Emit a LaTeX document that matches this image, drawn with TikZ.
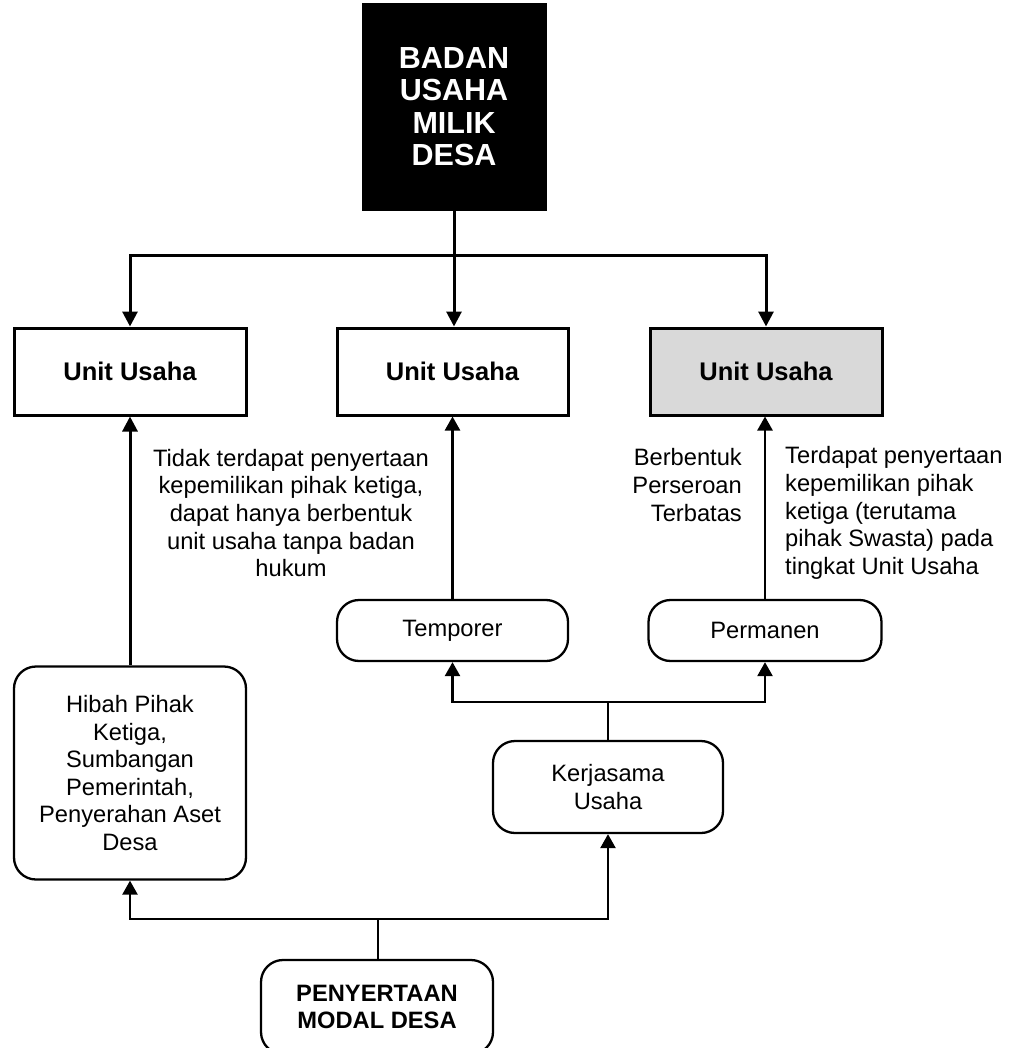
\documentclass[tikz,border=0pt]{standalone}
\usepackage{fontspec}
\setmainfont{Liberation Sans}
\usetikzlibrary{arrows.meta}
\definecolor{unitgrey}{HTML}{D9D9D9}
\begin{document}
\begin{tikzpicture}[x=1pt,y=-1pt,
  txt/.style={font=\fontsize{23.7}{27.6}\selectfont},
  boldtxt/.style={font=\fontsize{23.7}{27.6}\selectfont\bfseries},
  unitbox/.style={draw,line width=3pt,minimum width=232pt,minimum height=87pt,inner sep=0pt,
     font=\fontsize{25.5}{28}\selectfont\bfseries},
  roundbox/.style={draw,line width=2.3pt,rounded corners=22pt,inner sep=0pt,align=center,txt},
  note/.style={inner sep=0pt,txt},
  topcon/.style={line width=3pt},
  topar/.style={line width=3pt,-{Triangle[width=15pt,length=15pt]}},
  lowcon/.style={line width=2.5pt},
  lowar/.style={line width=2.5pt,-{Triangle[width=15pt,length=14pt]}}
]
\useasboundingbox (0,0) rectangle (1015,1048);

% top node
\node[fill=black,draw=black,minimum width=184pt,minimum height=207pt,inner sep=0pt,
      text=white,align=center,font=\fontsize{30.5}{32.5}\selectfont\bfseries]
  (bum) at (454,106.5) {BADAN\\USAHA\\MILIK\\DESA};

% unit boxes
\node[unitbox] (ub1) at (130,371.5) {Unit Usaha};
\node[unitbox,minimum width=231pt] (ub2) at (452.5,371.5) {Unit Usaha};
\node[unitbox,fill=unitgrey] (ub3) at (766,371.5) {Unit Usaha};

% rounded boxes
\node[roundbox,minimum width=231pt,minimum height=61pt] (temp) at (452.5,630.5) {Temporer};
\node[roundbox,minimum width=233pt,minimum height=61pt] (perm) at (765,630.5) {Permanen};
\node[roundbox,minimum width=230pt,minimum height=92pt] (kerja) at (608,787) {Kerjasama\\Usaha};
\node[roundbox,minimum width=232pt,minimum height=213pt] (hibah) at (130,773)
  {Hibah Pihak\\Ketiga,\\Sumbangan\\Pemerintah,\\Penyerahan Aset\\Desa};
\node[roundbox,minimum width=232pt,minimum height=94pt,boldtxt] (modal) at (377,1007)
  {PENYERTAAN\\MODAL DESA};

% notes
\node[note,align=center] (n1) at (291,513)
  {Tidak terdapat penyertaan\\kepemilikan pihak ketiga,\\dapat hanya berbentuk\\unit usaha tanpa badan\\hukum};
\node[note,align=right,anchor=east] (n2) at (742,485)
  {Berbentuk\\Perseroan\\Terbatas};
\node[note,align=left,anchor=west] (n3) at (785,513)
  {Terdapat penyertaan\\kepemilikan pihak\\ketiga (terutama\\pihak Swasta) pada\\tingkat Unit Usaha};

% junctions
\coordinate (j1) at (bum.south |- 0,256);
\coordinate (j2) at (kerja.north |- 0,702);
\coordinate (j3) at (378,919);

% top connectors
\draw[topcon] (bum.south) -- (j1);
\draw[topar] (j1) -| (ub1.north);
\draw[topar] (j1) -| (ub3.north);
\draw[topar] (bum.south) -- (bum.south |- ub2.north);

% middle connectors
\draw[topar] (hibah.north) -- (ub1.south);
\draw[lowar] (temp.north) -- (temp.north |- ub2.south);
\draw[lowar] (perm.north) -- (perm.north |- ub3.south);

% lower connectors
\draw[lowcon] (kerja.north) -- (j2);
\draw[lowar] (j2) -| (temp.south);
\draw[lowar] (j2) -| (perm.south);
\draw[lowcon] (j3 |- modal.north) -- (j3);
\draw[lowar] (j3) -| (hibah.south);
\draw[lowar] (j3) -| (kerja.south);
\end{tikzpicture}
\end{document}
